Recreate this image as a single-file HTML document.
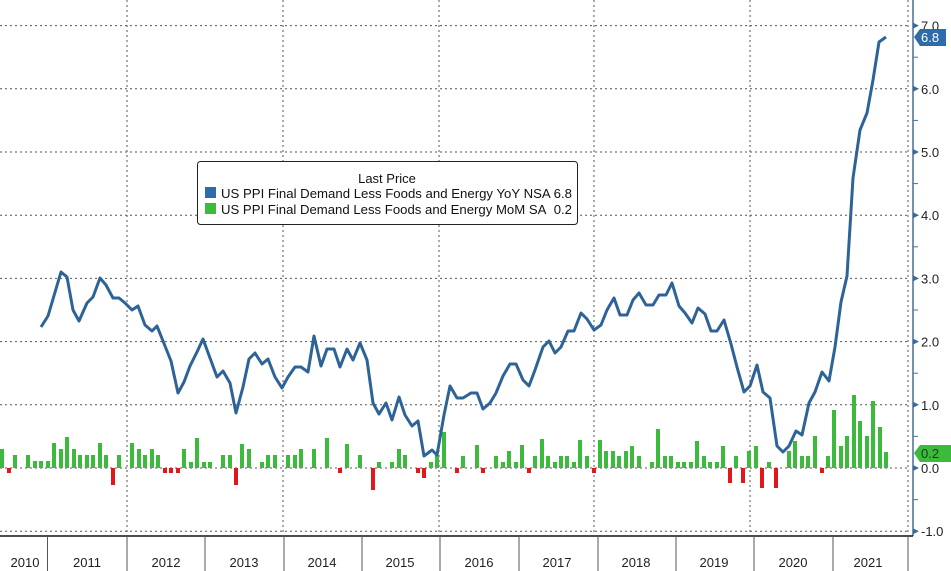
<!DOCTYPE html>
<html><head><meta charset="utf-8"><style>
html,body{margin:0;padding:0;background:#fff;}
svg{display:block;font-family:"Liberation Sans",sans-serif;}
</style></head><body>
<svg id="c" width="951" height="571" viewBox="0 0 951 571" xmlns="http://www.w3.org/2000/svg">
<rect width="951" height="571" fill="#fff"/>
<g id="grid" stroke="#555" stroke-width="1" stroke-dasharray="2,3"></g>
<g id="bars"></g>
<polyline id="line" fill="none" stroke="#2d6397" stroke-width="3" stroke-linejoin="round" points=""/>
<g id="axis"></g>
<rect x="197.5" y="161.5" width="380" height="63" rx="3" fill="#fff" stroke="#222"/>
<text x="387" y="183" font-size="13" text-anchor="middle" fill="#111">Last Price</text>
<rect x="205" y="187" width="11" height="11" fill="#2d6ca8"/>
<text x="221" y="198" font-size="13" fill="#111" textLength="351" lengthAdjust="spacingAndGlyphs">US PPI Final Demand Less Foods and Energy YoY NSA 6.8</text>
<rect x="205" y="203" width="11" height="11" fill="#3cba3c"/>
<text x="221" y="214" font-size="13" fill="#111" textLength="351" lengthAdjust="spacingAndGlyphs">US PPI Final Demand Less Foods and Energy MoM SA&#160; 0.2</text>
</svg>
<script>
var NS="http://www.w3.org/2000/svg";
function el(p,t,a,txt){var e=document.createElementNS(NS,t);for(var k in a)e.setAttribute(k,a[k]);if(txt!==undefined)e.textContent=txt;p.appendChild(e);return e;}
function Y(v){return 468-v*63.2;}
var g=document.getElementById('grid');
[-1,1,2,3,4,5,6,7].forEach(function(v){el(g,'line',{x1:0,x2:908,y1:Y(v),y2:Y(v)});});
el(g,'line',{x1:0,x2:908,y1:468,y2:468});
[127,283,439,594,750,908].forEach(function(x){el(g,'line',{x1:x,x2:x,y1:0,y2:535});});
var bars=[[2,19],[9,-5],[15,13],[28,13],[35,7],[41,7],[48,7],[54,25],[61,19],[67,31],[74,19],[80,13],[87,13],[93,13],[100,25],[106,13],[113,-17],[119,13],[132,25],[139,19],[145,13],[152,19],[158,13],[165,-5],[171,-5],[178,-5],[184,19],[191,6],[197,30],[204,6],[210,6],[223,13],[230,13],[236,-17],[242,24],[249,19],[262,6],[268,13],[275,13],[288,13],[295,13],[301,19],[314,19],[327,30],[340,-5],[347,24],[360,13],[373,-22],[379,6],[392,6],[399,19],[405,13],[418,-5],[424,-10],[431,6],[437,13],[444,36],[457,-5],[463,12],[477,23],[483,-5],[496,12],[503,6],[509,17],[516,6],[522,23],[529,-5],[535,12],[542,29],[548,12],[555,6],[561,12],[567,12],[574,6],[580,28],[587,12],[594,-5],[600,28],[606,17],[613,17],[619,12],[626,17],[632,22],[639,12],[652,6],[658,39],[665,12],[671,12],[678,6],[684,6],[691,6],[697,27],[704,12],[710,6],[717,6],[723,22],[730,-15],[736,12],[743,-15],[749,17],[756,22],[762,-20],[769,6],[776,-20],[789,17],[795,27],[802,12],[808,12],[815,32],[822,-5],[828,12],[834,58],[841,22],[847,32],[854,73],[860,47],[867,32],[873,67],[880,41],[886,16]];
var bg=document.getElementById('bars');
bars.forEach(function(b){var h=b[1];if(h>0)el(bg,'rect',{x:b[0]-2,y:468-h,width:4,height:h,fill:'#3cba3c'});else el(bg,'rect',{x:b[0]-2,y:468,width:4,height:-h,fill:'#e0171b'});});
var pts="41,327 48,316 61,272 67,277 73,310 79,321 87,303 93,297 100,278 106,285 113,298 119,298 125,303 132,310 138,306 145,325 152,331 157,326 163,341 171,361 178,393 184,382 190,366 197,352 203,339 210,358 217,377 223,371 230,383 236,413 243,387 249,359 255,353 262,364 268,359 275,377 282,388 288,377 295,367 301,367 308,372 314,336 321,366 327,349 334,349 340,367 347,349 353,360 360,343 367,360 373,403 379,414 386,403 392,420 399,397 405,415 412,426 418,421 424,456 432,450 437,455 444,415 450,386 457,398 463,398 471,393 477,393 483,409 490,403 496,393 503,376 510,364 516,364 523,380 529,386 535,370 543,347 549,341 555,353 561,347 568,331 574,331 581,313 587,319 594,330 601,325 607,310 614,298 620,315 627,315 633,300 639,293 646,305 653,305 659,295 666,295 672,283 679,306 685,313 692,323 698,308 705,314 711,331 717,331 724,320 731,344 737,367 744,392 750,386 757,365 763,392 770,398 777,446 783,452 789,446 796,431 802,435 809,403 815,392 822,372 829,381 835,347 841,302 847,276 853,178 860,130 867,113 873,80 879,42 886,37";
document.getElementById('line').setAttribute('points',pts);
var ax=document.getElementById('axis');
el(ax,'line',{x1:913,x2:913,y1:0,y2:536,stroke:'#4a6f93','stroke-width':1.5});
el(ax,'line',{x1:0,x2:913,y1:536,y2:536,stroke:'#111','stroke-width':1.5});
[-1,0,1,2,3,4,5,6,7].forEach(function(v){var y=Y(v);el(ax,'path',{d:'M913 '+(y-3)+' L919 '+y+' L913 '+(y+3)+'Z',fill:'#3a6a9a'});
el(ax,'text',{x:921,y:y+5,'font-size':13,fill:'#222'},v.toFixed(1));});
[-0.5,0.5,1.5,2.5,3.5,4.5,5.5,6.5].forEach(function(v){el(ax,'line',{x1:913,x2:918,y1:Y(v),y2:Y(v),stroke:'#4a6f93'});});
el(ax,'path',{d:'M914 37 L920 29 L946 29 L946 46 L920 46 Z',fill:'#2d6ca8'});
el(ax,'text',{x:921,y:42,'font-size':13,fill:'#fff'},'6.8');
el(ax,'path',{d:'M914 453 L920 445 L951 445 L951 462 L920 462 Z',fill:'#3cba3c'});
el(ax,'text',{x:921,y:458,'font-size':13,fill:'#1a3a1a'},'0.2');
[47.5,127,205,284,362,440,519,598,676,754,833,908].forEach(function(x){el(ax,'line',{x1:x,x2:x,y1:536,y2:571,stroke:'#555'});});
var yrs=[[25,'2010'],[87,'2011'],[166,'2012'],[244,'2013'],[322,'2014'],[400,'2015'],[479,'2016'],[557,'2017'],[636,'2018'],[714,'2019'],[793,'2020'],[868,'2021']];
yrs.forEach(function(a){el(ax,'text',{x:a[0],y:567,'font-size':13,'text-anchor':'middle',fill:'#222'},a[1]);});
</script>
</body></html>
